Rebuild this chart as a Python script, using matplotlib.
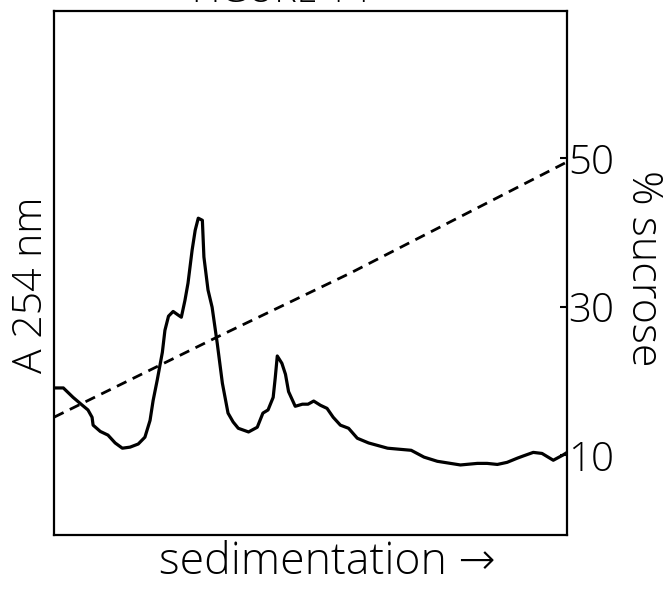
import matplotlib
matplotlib.use("Agg")
import matplotlib.pyplot as plt

# Fraction number along the gradient (0 = top, 100 = bottom of tube)
frac = [0.0, 1.8, 3.7, 5.5, 6.6, 7.4, 7.6, 9.0, 10.5, 11.9, 13.3, 14.8, 16.4, 17.7, 18.7,
        19.3, 20.1, 21.1, 21.6, 22.3, 23.2, 24.2, 24.8, 25.5, 26.1, 26.9, 27.5, 28.1, 28.9,
        29.2, 30.0, 30.8, 31.8, 32.8, 33.9, 34.9, 35.9, 37.9, 39.6, 40.7, 41.7, 42.7, 43.1,
        43.5, 44.4, 45.1, 45.7, 47.0, 48.4, 49.5, 50.6, 51.9, 53.2, 54.4, 55.8, 57.4, 59.1,
        61.3, 65.0, 69.6, 72.1, 74.7, 79.2, 82.5, 84.4, 86.4, 88.3, 90.3, 91.4, 93.4, 95.1,
        97.3, 99.2, 100.0]
# Absorbance at 254 nm (relative units)
a254 = [0.281, 0.281, 0.263, 0.248, 0.239, 0.225, 0.210, 0.198, 0.191, 0.176, 0.166, 0.168,
        0.174, 0.187, 0.219, 0.257, 0.296, 0.349, 0.391, 0.418, 0.427, 0.420, 0.416, 0.448,
        0.481, 0.544, 0.582, 0.605, 0.601, 0.531, 0.468, 0.435, 0.366, 0.290, 0.233, 0.216,
        0.204, 0.197, 0.206, 0.233, 0.239, 0.263, 0.300, 0.342, 0.328, 0.307, 0.274, 0.246,
        0.250, 0.250, 0.256, 0.248, 0.242, 0.225, 0.210, 0.204, 0.185, 0.176, 0.166, 0.162,
        0.149, 0.141, 0.134, 0.137, 0.137, 0.135, 0.139, 0.147, 0.151, 0.158, 0.156, 0.143,
        0.153, 0.158]

# Sucrose gradient
suc_frac = [0.0, 31.8, 57.7, 100.0]
sucrose = [15.1, 25.9, 34.5, 49.5]
suc_ticks = [10, 30, 50]

plt.rcParams['font.family'] = ['Open Sans', 'DejaVu Sans']
plt.rcParams['font.weight'] = 'light'

fig = plt.figure(figsize=(6.68, 5.92), dpi=100)
ax = fig.add_axes([0.081, 0.096, 0.768, 0.885])
ax.plot(frac, a254, color='black', lw=2.3, solid_joinstyle='round', solid_capstyle='round')
ax.set_xlim(0, 100)
ax.set_ylim(0, 1)
ax.set_xticks([])
ax.set_yticks([])
for s in ax.spines.values():
    s.set_linewidth(1.6)

ax2 = ax.twinx()
ax2.plot(suc_frac, sucrose, color='black', lw=2.0, dashes=(3.8, 2.5))
ax2.set_ylim(-0.8, 69.8)
ax2.set_yticks(suc_ticks)
ax2.set_yticklabels([str(t) for t in suc_ticks], fontsize=29, fontweight='light')
ax2.tick_params(axis='y', direction='in', length=5, width=1.5, pad=1)
for s in ax2.spines.values():
    s.set_visible(False)

fig.text(0.047, 0.519, 'A 254 nm', rotation=90, ha='center', va='center', fontsize=29.5, fontweight='light')
fig.text(0.963, 0.547, '% sucrose', rotation=270, ha='center', va='center', fontsize=31, fontweight='light')
fig.text(0.49, 0.050, 'sedimentation \u2192', ha='center', va='center', fontsize=32, fontweight='light')
fig.text(0.420, 1 - 2 / 592, 'FIGURE 14', ha='center', va='baseline', fontsize=27)

fig.savefig('out.png', dpi=100)
